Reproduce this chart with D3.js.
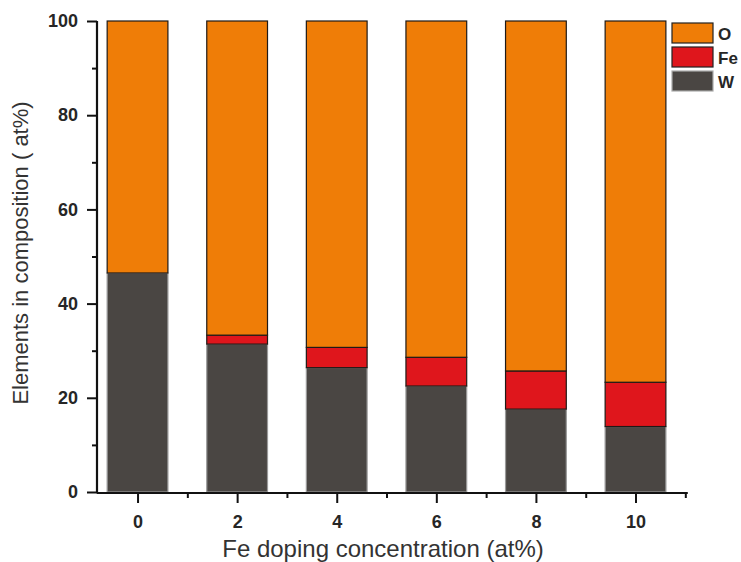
<!DOCTYPE html>
<html><head><meta charset="utf-8">
<script src="https://cdn.jsdelivr.net/npm/d3@7"></script>
<style>body{margin:0;background:#fff}svg{display:block}text{font-family:"Liberation Sans",Arial,sans-serif}</style>
</head><body><svg id="c" width="741" height="562"></svg>
<script>
const categories = [0, 2, 4, 6, 8, 10];
const W  = [46.5, 31.4, 26.4, 22.5, 17.6, 13.9];
const Fe = [0, 1.9, 4.3, 6.1, 8.1, 9.4];
const O  = categories.map((c, i) => 100 - W[i] - Fe[i]);
const seriesNames = ["W", "Fe", "O"];
const colors = {W: "#4a4643", Fe: "#df161c", O: "#ef7d07"};
const yTicks = [0, 20, 40, 60, 80, 100];
const xTicks = [0, 2, 4, 6, 8, 10];

const svg = d3.select("#c");
const x = d3.scaleLinear().domain([-0.8, 11.05]).range([97.7, 687.8]);
const y = d3.scaleLinear().domain([0, 100]).range([492, 21]);
const bw = 1.22;

const table = categories.map((c, i) => ({c, W: W[i], Fe: Fe[i], O: O[i]}));
const stacked = d3.stack().keys(seriesNames)(table);

stacked.forEach(s => {
  svg.append("g").selectAll("rect").data(s.filter(d => d[1] - d[0] > 0)).join("rect")
    .attr("x", d => x(d.data.c - bw / 2))
    .attr("width", d => x(d.data.c + bw / 2) - x(d.data.c - bw / 2))
    .attr("y", d => y(d[1]))
    .attr("height", d => y(d[0]) - y(d[1]))
    .attr("fill", colors[s.key])
    .attr("stroke", s.key === "W" ? "#9a9a9a" : "#1f1a17")
    .attr("stroke-width", 1.2);
});

// Y axis
const ya = svg.append("g").attr("transform", "translate(97,0)")
  .call(d3.axisLeft(y).tickValues(yTicks).tickSize(10).tickPadding(9).tickFormat(d3.format("d")));
svg.append("g").attr("transform", "translate(97,0)")
  .call(d3.axisLeft(y).tickValues(d3.range(10, 100, 20)).tickSize(5).tickFormat(""))
  .call(g => g.select(".domain").remove());
// X axis
const xa = svg.append("g").attr("transform", "translate(0,493)")
  .call(d3.axisBottom(x).tickValues(xTicks).tickSize(10).tickPadding(12).tickFormat(d3.format("d")));
svg.append("g").attr("transform", "translate(0,493)")
  .call(d3.axisBottom(x).tickValues(d3.range(1, 12, 2)).tickSize(5).tickFormat(""))
  .call(g => g.select(".domain").remove());

svg.selectAll(".domain").attr("stroke", "#111").attr("stroke-width", 2.2);
svg.selectAll(".tick line").attr("stroke", "#111").attr("stroke-width", 2);
svg.selectAll(".tick text").attr("font-size", 18).attr("font-weight", "bold")
  .attr("fill", "#262626").attr("font-family", "'Liberation Sans',Arial,sans-serif");
ya.select(".domain").attr("d", `M0,${y(100)}V${y(0)}`);
xa.select(".domain").attr("d", `M${x(-0.8) - 1},0H${x(11.05)}`);

// Axis titles
svg.append("text").attr("x", 383).attr("y", 557).attr("text-anchor", "middle")
  .attr("font-size", 24).attr("fill", "#333").text("Fe doping concentration (at%)");
svg.append("text").attr("transform", "translate(28,253) rotate(-90)").attr("text-anchor", "middle")
  .attr("font-size", 22).attr("fill", "#333").text("Elements in composition ( at%)");

// Legend
const legendItems = ["O", "Fe", "W"];
const lg = svg.append("g").selectAll("g").data(legendItems).join("g")
  .attr("transform", (d, i) => `translate(672,${23 + i * 24})`);
lg.append("rect").attr("width", 41).attr("height", 20)
  .attr("fill", d => colors[d]).attr("stroke", d => d === "W" ? "#aaa" : "#222").attr("stroke-width", 1.2);
lg.append("text").attr("x", 46).attr("y", 17).attr("font-size", 17).attr("font-weight", "bold")
  .attr("fill", "#262626").text(d => d);
</script></body></html>
